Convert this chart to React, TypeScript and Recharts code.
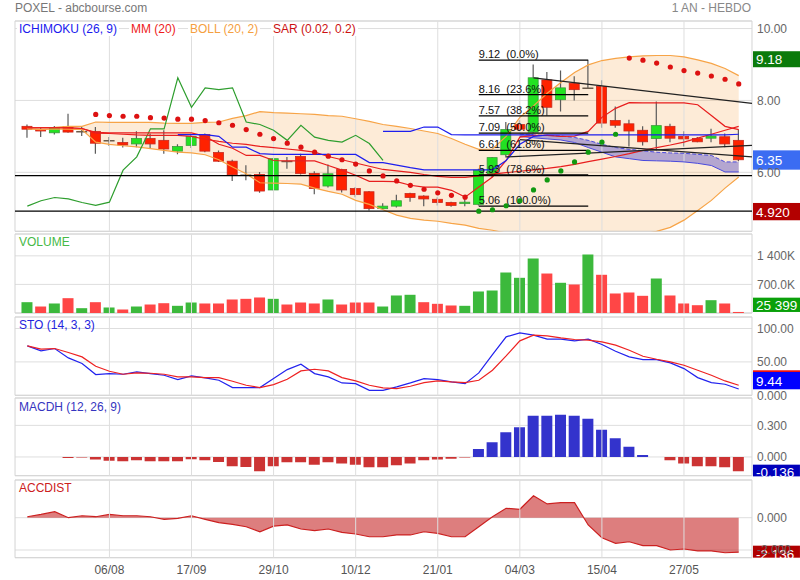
import React from "react";
import {
  ComposedChart,
  Line,
  Bar,
  Area,
  XAxis,
  YAxis,
  CartesianGrid,
  ReferenceLine,
  ReferenceArea,
  Cell,
} from "recharts";

const FONT = "'Liberation Sans', Arial, Helvetica, sans-serif";

// weekly bars, index 0 = week of 25/06
const DATE_LABELS = ["06/08", "17/09", "29/10", "10/12", "21/01", "04/03", "15/04", "27/05"];
const DATE_IDX = [6, 12, 18, 24, 30, 36, 42, 48];

const OPEN = [
  7.28, 7.19, 7.10, 7.27, 7.14, 7.14, 6.89, 6.83, 6.79, 6.94,
  6.89, 6.59, 6.75, 7.05, 6.55, 6.31, 5.94, 5.94, 5.51, 6.30,
  6.44, 5.97, 5.62, 6.08, 5.55, 5.46, 4.99, 5.06, 5.41, 5.34,
  5.25, 5.16, 5.13, 5.11, 5.96, 6.49, 7.33, 7.12, 8.57, 8.02,
  8.48, 8.36, 8.39, 7.44, 7.35, 7.17, 6.94, 7.28, 7.00, 6.94,
  6.95, 6.99, 6.89,
];
const HIGH = [
  7.33, 7.25, 7.29, 7.63, 7.26, 7.26, 6.98, 6.96, 7.14, 7.08,
  7.17, 6.78, 7.08, 7.08, 6.61, 6.35, 6.20, 6.01, 6.40, 6.43,
  6.52, 6.03, 6.22, 6.10, 5.59, 5.48, 5.14, 5.38, 5.43, 5.36,
  5.31, 5.18, 5.27, 6.10, 6.43, 7.40, 7.45, 9.00, 8.79, 8.83,
  8.67, 9.12, 8.56, 7.83, 7.46, 7.28, 7.97, 7.35, 7.14, 6.98,
  7.21, 7.08, 7.19,
];
const LOW = [
  6.96, 6.98, 7.05, 7.10, 7.01, 6.52, 6.73, 6.69, 6.70, 6.66,
  6.52, 6.50, 6.68, 6.56, 6.29, 5.76, 5.78, 5.43, 5.50, 6.10,
  5.94, 5.39, 5.58, 5.44, 5.31, 4.94, 4.96, 5.02, 5.18, 5.06,
  5.08, 5.04, 5.06, 5.08, 5.87, 6.41, 7.15, 7.10, 7.58, 7.69,
  8.00, 8.33, 7.24, 7.24, 6.72, 6.75, 6.61, 6.84, 6.72, 6.84,
  6.84, 6.70, 6.31,
];
const CLOSE = [
  7.20, 7.15, 7.25, 7.12, 7.13, 6.81, 6.88, 6.76, 6.94, 6.79,
  6.65, 6.72, 7.00, 6.59, 6.31, 5.93, 5.92, 5.48, 6.38, 6.30,
  5.97, 5.55, 5.96, 5.51, 5.38, 4.99, 5.06, 5.21, 5.30, 5.26,
  5.16, 5.08, 5.17, 6.06, 6.41, 7.19, 7.20, 8.63, 7.81, 8.35,
  8.30, 8.34, 7.37, 7.31, 7.15, 6.85, 7.30, 6.95, 6.93, 6.85,
  7.01, 6.79, 6.35,
];
const VOLUME = [
  265000, 159000, 233000, 363000, 118000, 265000, 135000, 86000, 159000, 208000,
  240000, 176000, 257000, 233000, 233000, 331000, 347000, 380000, 347000, 208000,
  257000, 233000, 331000, 208000, 257000, 257000, 159000, 429000, 446000, 265000,
  225000, 184000, 176000, 527000, 551000, 992000, 862000, 1335000, 967000, 740000,
  698000, 1433000, 936000, 478000, 502000, 421000, 845000, 429000, 233000, 191000,
  314000, 233000, 25399,
];

const MM20 = [
  7.24, 7.24, 7.24, 7.24, 7.22, 7.09, 7.08, 7.06, 7.04, 7.03,
  7.03, 7.03, 7.00, 6.92, 6.86, 6.81, 6.78, 6.72, 6.69, 6.65,
  6.61, 6.56, 6.44, 6.35, 6.26, 6.17, 6.08, 6.04, 6.00, 5.94,
  5.89, 5.86, 5.86, 5.90, 5.95, 5.99, 6.03, 6.07, 6.11, 6.16,
  6.22, 6.30, 6.37, 6.44, 6.52, 6.61, 6.69, 6.76, 6.84, 6.95,
  7.06, 7.17, 7.28,
];
const BB_UP = [
  7.23, 7.24, 7.25, 7.28, 7.28, 7.40, 7.39, 7.39, 7.39, 7.39,
  7.37, 7.36, 7.36, 7.39, 7.40, 7.50, 7.58, 7.69, 7.66, 7.65,
  7.63, 7.61, 7.58, 7.56, 7.49, 7.42, 7.33, 7.28, 7.22, 7.15,
  7.08, 6.94, 6.78, 6.64, 6.65, 7.00, 7.53, 7.85, 8.20, 8.50,
  8.78, 8.99, 9.11, 9.17, 9.21, 9.24, 9.25, 9.25, 9.21, 9.13,
  9.03, 8.89, 8.69,
];
const BB_LOW = [
  7.21, 7.19, 7.21, 7.20, 7.19, 6.84, 6.78, 6.74, 6.71, 6.66,
  6.61, 6.56, 6.54, 6.49, 6.35, 6.15, 5.96, 5.71, 5.70, 5.69,
  5.67, 5.56, 5.47, 5.39, 5.22, 5.11, 4.96, 4.81, 4.72, 4.67,
  4.64, 4.58, 4.53, 4.44, 4.39, 4.31, 4.25, 4.20, 4.15, 4.12,
  4.10, 4.10, 4.12, 4.15, 4.20, 4.28, 4.36, 4.47, 4.67, 4.94,
  5.22, 5.56, 5.87,
];

// ichimoku
const TENKAN = [
  7.24, 7.24, 7.24, 7.24, 7.22, 7.11, 7.10, 7.10, 7.10, 7.10,
  7.10, 7.10, 7.10, 7.00, 6.78, 6.67, 6.47, 6.47, 6.33, 6.32,
  6.32, 6.32, 6.19, 6.06, 5.92, 5.75, 5.75, 5.74, 5.64, 5.59,
  5.59, 5.50, 5.31, 5.59, 5.87, 6.33, 6.98, 7.03, 7.03, 7.00,
  7.01, 7.14, 7.53, 7.78, 7.94, 7.93, 7.93, 7.93, 7.93, 7.88,
  7.58, 7.28, 7.19,
];
const KIJUN_START = 11;
const KIJUN = [
  7.05, 7.05, 7.05, 7.00, 6.70, 6.70, 6.52, 6.50, 6.50,
  6.50, 6.50, 6.50, 6.50, 6.50, 6.27, 6.27, 6.20, 6.13, 6.07,
  6.07, 6.07, 6.07, 6.07, 6.07, 6.33, 6.78, 7.00, 7.04, 7.04,
  7.04, 7.04, 7.04, 7.04, 7.04, 7.04, 7.04, 7.04, 7.04, 7.04,
  7.04, 7.04, 7.06,
];
const SPAN_B_START = 26;
const SPAN_B = [7.14, 7.14, 7.14, 7.26, 7.26, 7.05, 7.04, 7.04, 7.04, 7.04, 7.04, 7.04];
const CLOUD_START = 36;
const CLOUD_TOP = [7.06, 7.04, 7.03, 7.01, 6.97, 6.89, 6.78, 6.69, 6.64, 6.60, 6.56, 6.54, 6.53, 6.50, 6.47, 6.29, 6.29];
const CLOUD_BOT = [7.00, 6.96, 6.93, 6.90, 6.83, 6.69, 6.56, 6.43, 6.38, 6.33, 6.32, 6.31, 6.29, 6.25, 6.19, 6.01, 6.01];
const CHIKOU = [
  5.06, 5.21, 5.30, 5.26, 5.16, 5.08, 5.17, 6.06, 6.43, 7.21,
  7.21, 8.63, 7.81, 8.35, 8.30, 8.35, 7.40, 7.33, 7.17, 6.89,
  7.31, 6.98, 6.89, 6.84, 7.03, 6.80, 6.33,
];

const SAR_START = 5;
const SAR = [
  7.61, 7.58, 7.56, 7.56, 7.52, 7.51, 7.48, 7.48, 7.44, 7.38,
  7.31, 7.19, 7.06, 6.94, 6.81, 6.70, 6.56, 6.45, 6.35, 6.23,
  6.04, 5.90, 5.76, 5.64, 5.53, 5.43, 5.36, 5.31, 4.92, 4.96,
  5.07, 5.21, 5.51, 5.79, 6.04, 6.29, 6.56, 6.84, 7.06, 9.18,
  9.12, 9.04, 8.93, 8.83, 8.76, 8.68, 8.59, 8.46,
];

const STO_K = [
  74, 66.5, 70, 56, 47.5, 31, 32.5, 31.5, 35, 32.5,
  30, 23.5, 29, 26, 22.5, 11.5, 11.5, 11.5, 25, 38.5,
  46.5, 32.5, 27.5, 18.5, 17.5, 7.5, 7.5, 12.5, 18.5, 25,
  23.5, 20, 17.5, 33.5, 61, 87.5, 93.5, 90, 84, 84,
  81.5, 84, 76, 66, 57.5, 53.5, 53.5, 48.5, 40, 26.5,
  19, 16.5, 9.44,
];
const STO_D = [
  74, 69, 70, 64, 57.5, 43.5, 36, 31.5, 33.5, 33,
  31.5, 27.5, 27.5, 26.5, 26.5, 21, 15, 11.5, 16, 24,
  36.5, 39, 36.5, 26.5, 21.5, 15, 11, 10, 13.5, 19,
  21.5, 20, 19, 22.5, 37.5, 59, 81.5, 90, 89, 86,
  83.5, 82.5, 80, 75, 67.5, 58.5, 54, 50, 45, 37.5,
  30, 21.5, 15,
];

const MACDH_START = 3;
const MACDH = [
  -0.010, -0.006, -0.025, -0.035, -0.042, -0.032, -0.042,
  -0.042, -0.042, -0.022, -0.032, -0.047, -0.089, -0.095, -0.136, -0.089, -0.051,
  -0.051, -0.073, -0.051, -0.063, -0.073, -0.098, -0.098, -0.079, -0.063, -0.032,
  -0.025, -0.016, -0.006, 0.076, 0.139, 0.234, 0.282, 0.392, 0.392, 0.402,
  0.392, 0.364, 0.259, 0.177, 0.098, 0.019, 0, -0.032, -0.063, -0.089,
  -0.089, -0.098, -0.136,
];

const ACCDIST = [
  0.06, 0.20, 0.37, 0.00, 0.12, 0.06, 0.20, 0.12, 0.12, 0.06,
  -0.10, -0.04, 0.12, -0.10, -0.31, -0.41, -0.56, -0.87, -0.52, -0.45,
  -0.70, -0.80, -0.70, -0.91, -1.01, -1.18, -1.18, -1.07, -1.07, -0.87,
  -0.97, -1.18, -1.18, -0.56, 0.06, 0.58, 0.52, 1.36, 0.85, 0.93,
  0.93, -0.45, -1.24, -1.59, -1.49, -1.73, -1.73, -2.00, -1.94, -2.06,
  -2.06, -2.17, -2.136,
];

// drawing tools on the price panel
const SUPPORTS = [5.91, 4.92];
const FIB_FROM = 33;
const FIB_TO = 41;
const FIB_LEVELS = [9.12, 8.16, 7.57, 7.09, 6.61, 5.93, 5.06];
const FIB_PCT = ["0.0%", "23.6%", "38.2%", "50.0%", "61.8%", "78.6%", "100.0%"];
const TRENDS = [
  { x1: 37, y1: 8.63, x2: 52.97, y2: 7.92 },
  { x1: 35, y1: 6.43, x2: 52.97, y2: 6.75 },
  { x1: 36, y1: 6.91, x2: 52.97, y2: 6.43 },
];

const VOL_TICKS = [700000, 1400000];
const VOL_TICK_TEXT = ["700.0K", "1 400K"];

type Box = { v: number; text: string; bg: string; off: number; h: number; base: number };
const MAIN_BOXES: Box[] = [
  { v: 9.18, text: "9.18", bg: "#0b7a0b", off: -6.8, h: 16, base: 6.3 },
  { v: 6.35, text: "6.35", bg: "#3b6cf2", off: -9.4, h: 19.3, base: 5.6 },
  { v: 4.92, text: "4.920", bg: "#b30000", off: -8.2, h: 17.3, base: 5.8 },
];
const VOL_BOXES: Box[] = [{ v: 25399, text: "25 399", bg: "#0aa00a", off: -14.3, h: 14.3, base: -2 }];
const STO_BOXES: Box[] = [
  { v: 15, text: "", bg: "#ee1111", off: -15, h: 16, base: 0 },
  { v: 9.44, text: "9.44", bg: "#0000ff", off: -17, h: 17.3, base: -3 },
];
const MACD_BOXES: Box[] = [{ v: -0.136, text: "-0.136", bg: "#0000bb", off: -6.6, h: 11.7, base: 5.7 }];
const ACC_BOXES: Box[] = [{ v: -2.136, text: "-2 136", bg: "#b00000", off: -6.5, h: 12, base: 7.1 }];

const LEGEND = [
  { text: "ICHIMOKU (26, 9)", color: "#1a1aee", x: 19 },
  { text: "MM (20)", color: "#ee1c1c", x: 131 },
  { text: "BOLL (20, 2)", color: "#f5a040", x: 190 },
  { text: "SAR (0.02, 0.2)", color: "#cc1111", x: 273 },
];

const X_DOMAIN: [number, number] = [-0.9, 52.97];
const PAD = 10;
const GRID = "#dedede";

const at = (arr: number[], start: number, i: number) =>
  i >= start && i - start < arr.length ? arr[i - start] : null;

const ROWS = CLOSE.map((c, i) => {
  const sar = at(SAR, SAR_START, i);
  return {
    i,
    open: OPEN[i],
    high: HIGH[i],
    low: LOW[i],
    close: c,
    vol: VOLUME[i],
    up: i === 0 || c >= CLOSE[i - 1],
    mm: MM20[i],
    bbUp: BB_UP[i],
    bbLow: BB_LOW[i],
    tenkan: TENKAN[i],
    kijun: at(KIJUN, KIJUN_START, i),
    spanB: at(SPAN_B, SPAN_B_START, i),
    cloudTop: at(CLOUD_TOP, CLOUD_START, i),
    cloudBot: at(CLOUD_BOT, CLOUD_START, i),
    chikou: at(CHIKOU, 0, i),
    sarDn: sar != null && sar >= HIGH[i] ? sar : null,
    sarUp: sar != null && sar < HIGH[i] ? sar : null,
    stoK: STO_K[i],
    stoD: STO_D[i],
    macd: at(MACDH, MACDH_START, i),
    acc: ACCDIST[i],
  };
});

const Candle = (p: any) => {
  const { x, y, width, height, payload } = p;
  if (!payload || !isFinite(y) || !isFinite(height)) return null;
  const { open, close, high, low } = payload;
  const top = Math.min(y, y + height);
  const h = Math.abs(height);
  const py = (v: number) => top + ((high - v) / (high - low)) * h;
  const cx = x + width / 2;
  const doji = Math.abs(close - open) < 0.025;
  const up = close > open;
  const bt = py(Math.max(open, close));
  const bb = py(Math.min(open, close));
  return (
    <g>
      <line x1={cx} x2={cx} y1={top} y2={top + h} stroke="#5a5a5a" strokeWidth={1.2} />
      {doji ? (
        <line x1={x} x2={x + width} y1={py(close)} y2={py(close)} stroke="#6b5b4b" strokeWidth={1.6} />
      ) : (
        <rect
          x={x + 0.5}
          y={bt}
          width={width - 1}
          height={Math.max(bb - bt, 1)}
          fill={up ? "#22e222" : "#ff2200"}
          stroke={up ? "#3c9c3c" : "#c8281e"}
          strokeWidth={0.8}
        />
      )}
    </g>
  );
};

const boxLabel = (b: Box) => (p: any) => {
  const vb = p.viewBox;
  if (!vb) return null;
  const left = vb.x + vb.width + 1;
  return (
    <g>
      <rect x={left} y={vb.y + b.off} width={47} height={b.h} fill={b.bg} />
      {b.text ? (
        <text x={left + 3} y={vb.y + b.base} fill="#fff" fontSize={13.5}>
          {b.text}
        </text>
      ) : null}
    </g>
  );
};

const boxes = (list: Box[], key: string) =>
  list.map((b, k) => (
    <ReferenceLine key={key + k} y={b.v} strokeOpacity={0} label={boxLabel(b)} />
  ));

const fibLabel = (text: string) => (p: any) => {
  const vb = p.viewBox;
  if (!vb) return null;
  return (
    <text x={vb.x} y={vb.y - 2} fontSize={11} fill="#111" style={{ whiteSpace: "pre" }}>
      {text}
    </text>
  );
};

function Panel({ top, h, domain, ticks, fmt, last, children }: any) {
  const axisH = last ? 24 : 0;
  return (
    <div style={{ position: "absolute", left: 0, top: top - PAD }}>
      <ComposedChart
        width={800}
        height={h + 2 * PAD + axisH}
        data={ROWS}
        margin={{ top: PAD, right: 0, bottom: PAD, left: 15 }}
      >
        <CartesianGrid vertical={false} stroke={GRID} />
        {DATE_IDX.map((t) => (
          <ReferenceLine key={"g" + t} x={t} stroke={GRID} />
        ))}
        <XAxis
          type="number"
          dataKey="i"
          domain={X_DOMAIN}
          allowDataOverflow
          hide={!last}
          height={axisH}
          ticks={DATE_IDX}
          interval={0}
          tickFormatter={(v: number) => DATE_LABELS[DATE_IDX.indexOf(v)] ?? ""}
          tick={{ fontSize: 12, fill: "#555" }}
          axisLine={false}
          tickLine={false}
          tickSize={0}
          tickMargin={8}
        />
        <YAxis
          type="number"
          orientation="right"
          width={48}
          domain={domain}
          allowDataOverflow
          ticks={ticks}
          interval={0}
          tickFormatter={fmt}
          axisLine={false}
          tickLine={false}
          tickSize={0}
          tickMargin={5}
          tick={{ fontSize: 12, fill: "#666" }}
        />
        {children}
        <ReferenceArea
          x1={X_DOMAIN[0]}
          x2={X_DOMAIN[1]}
          y1={domain[0]}
          y2={domain[1]}
          fill="none"
          stroke="#d4d4d4"
          strokeWidth={1}
          ifOverflow="visible"
        />
      </ComposedChart>
    </div>
  );
}

const text = (t: string, color: string, left: number, top: number, bg?: string) => (
  <div
    key={t}
    style={{
      position: "absolute",
      left,
      top,
      fontSize: 12,
      lineHeight: "14px",
      color,
      whiteSpace: "nowrap",
      background: bg,
      padding: bg ? "0 2px" : undefined,
    }}
  >
    {t}
  </div>
);

export default function App() {
  const noDot = { dot: false, activeDot: false, isAnimationActive: false, type: "linear" as const };
  return (
    <div
      style={{
        position: "relative",
        width: 800,
        height: 580,
        fontFamily: FONT,
        background: "#fff",
        overflow: "hidden",
      }}
    >
      <style>{"body{margin:0}"}</style>

      <Panel top={20.7} h={210.3} domain={[4.36, 10.21]} ticks={[6, 8, 10]} fmt={(v: number) => v.toFixed(2)}>
        <Area
          dataKey={(d: any) => [d.bbLow, d.bbUp]}
          type="linear"
          stroke="none"
          fill="#f8a548"
          fillOpacity={0.22}
          isAnimationActive={false}
          activeDot={false}
        />
        <Line dataKey="bbUp" stroke="#f7a447" strokeWidth={1.2} {...noDot} />
        <Line dataKey="bbLow" stroke="#f7a447" strokeWidth={1.2} {...noDot} />
        <Area
          dataKey={(d: any) => (d.cloudTop == null ? null : [d.cloudBot, d.cloudTop])}
          type="linear"
          stroke="none"
          fill="#5b52c8"
          fillOpacity={0.45}
          isAnimationActive={false}
          activeDot={false}
        />
        <Line dataKey="cloudTop" stroke="#4848dd" strokeWidth={1} strokeDasharray="4 2" {...noDot} />
        <Line dataKey="cloudBot" stroke="#4848dd" strokeWidth={1} {...noDot} />
        <Line dataKey="chikou" stroke="#2e9e2e" strokeWidth={1.2} {...noDot} />
        <Bar dataKey={(d: any) => [d.low, d.high]} barSize={11} shape={Candle} isAnimationActive={false} />
        <Line dataKey="mm" stroke="#e81e1e" strokeWidth={1.2} {...noDot} />
        <Line dataKey="tenkan" stroke="#e81e1e" strokeWidth={1.2} {...noDot} />
        <Line dataKey="kijun" stroke="#1e1eee" strokeWidth={1.2} {...noDot} />
        <Line dataKey="spanB" stroke="#1e1eee" strokeWidth={1.2} {...noDot} />
        {SUPPORTS.map((s) => (
          <ReferenceLine key={"s" + s} y={s} stroke="#000" strokeWidth={1.3} />
        ))}
        {FIB_LEVELS.map((lv, k) => (
          <ReferenceLine
            key={"f" + k}
            segment={[
              { x: FIB_FROM, y: lv },
              { x: FIB_TO, y: lv },
            ]}
            stroke="#000"
            strokeWidth={1.2}
            label={fibLabel(`${lv.toFixed(2)}  (${FIB_PCT[k]})`)}
          />
        ))}
        {TRENDS.map((t, k) => (
          <ReferenceLine
            key={"t" + k}
            segment={[
              { x: t.x1, y: t.y1 },
              { x: t.x2, y: t.y2 },
            ]}
            stroke="#222"
            strokeWidth={1.2}
          />
        ))}
        <Line
          dataKey="sarDn"
          stroke="none"
          dot={{ r: 2.6, fill: "#dd1111", stroke: "none" }}
          activeDot={false}
          isAnimationActive={false}
        />
        <Line
          dataKey="sarUp"
          stroke="none"
          dot={{ r: 2.6, fill: "#119911", stroke: "none" }}
          activeDot={false}
          isAnimationActive={false}
        />
        {boxes(MAIN_BOXES, "mb")}
      </Panel>

      <Panel
        top={234}
        h={79}
        domain={[0, 1935000]}
        ticks={VOL_TICKS}
        fmt={(v: number) => VOL_TICK_TEXT[VOL_TICKS.indexOf(v)] ?? ""}
      >
        <Bar dataKey="vol" barSize={11} isAnimationActive={false}>
          {ROWS.map((r) => (
            <Cell key={r.i} fill={r.up ? "#3cb93c" : "#ff4646"} />
          ))}
        </Bar>
        {boxes(VOL_BOXES, "vb")}
      </Panel>

      <Panel
        top={316.7}
        h={78.3}
        domain={[0, 117.2]}
        ticks={[0, 50, 100]}
        fmt={(v: number) => (v === 0 ? "0.000" : v.toFixed(2))}
      >
        <Line dataKey="stoK" stroke="#2222ee" strokeWidth={1.2} {...noDot} />
        <Line dataKey="stoD" stroke="#ee2222" strokeWidth={1.2} {...noDot} />
        {boxes(STO_BOXES, "sb")}
      </Panel>

      <Panel top={398.3} h={77.7} domain={[-0.178, 0.56]} ticks={[0, 0.3]} fmt={(v: number) => v.toFixed(3)}>
        <Bar dataKey="macd" barSize={11} isAnimationActive={false}>
          {ROWS.map((r) => (
            <Cell key={r.i} fill={(r.macd ?? 0) >= 0 ? "#3333cc" : "#cc3333"} />
          ))}
        </Bar>
        {boxes(MACD_BOXES, "db")}
      </Panel>

      <Panel
        top={480}
        h={77.7}
        domain={[-2.477, 2.334]}
        ticks={[-2, 0]}
        fmt={(v: number) => v.toFixed(3)}
        last
      >
        <Area
          dataKey="acc"
          type="linear"
          baseValue={0}
          stroke="#cc2020"
          strokeWidth={1.2}
          fill="#c62828"
          fillOpacity={0.6}
          isAnimationActive={false}
          activeDot={false}
        />
        {boxes(ACC_BOXES, "ab")}
      </Panel>

      {text("POXEL - abcbourse.com", "#777", 15, 1)}
      <div
        style={{
          position: "absolute",
          right: 49,
          top: 1,
          fontSize: 12,
          lineHeight: "14px",
          color: "#888",
        }}
      >
        1 AN - HEBDO
      </div>
      {LEGEND.map((l) => text(l.text, l.color, l.x - 2, 21.6, "#fff"))}
      {text("VOLUME", "#46b946", 19, 235)}
      {text("STO (14, 3, 3)", "#2323dd", 19, 317.6)}
      {text("MACDH (12, 26, 9)", "#3535c0", 19, 400)}
      {text("ACCDIST", "#cc2020", 19, 481)}
    </div>
  );
}
